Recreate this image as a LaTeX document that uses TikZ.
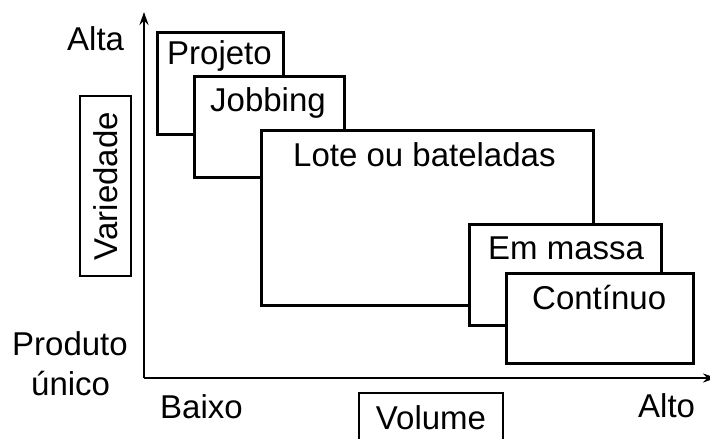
\documentclass[tikz,border=0pt]{standalone}
\usepackage{fontspec}
\setmainfont{Liberation Sans}
\usepackage{tikz}
\usetikzlibrary{positioning,arrows.meta}

\begin{document}
\begin{tikzpicture}[
  x=1pt,y=-1pt,
  font=\fontsize{33}{38}\selectfont,
  procbox/.style={draw=black,line width=2.6pt,fill=white,anchor=north west,inner sep=0pt},
  axislabel/.style={draw=black,line width=2pt,fill=white,inner sep=0pt},
  txt/.style={anchor=base west,inner sep=0pt},
  axis/.style={-{Stealth[length=13pt,width=9pt]},line width=2.8pt}
]
\clip (0,0) rectangle (710,439);
\useasboundingbox (0,0) rectangle (710,439);

\coordinate (origin) at (144,378);
\coordinate (ytip) at (144,12);
\coordinate (xtip) at (716,378);

% process boxes, back to front
\node[procbox,minimum width=126pt,minimum height=102pt] (projeto) at (156,31) {};
\node[txt] (projetotxt) at (167,64) {Projeto};
\node[procbox,minimum width=150pt,minimum height=101pt] (jobbing) at (193,75) {};
\node[txt] (jobbingtxt) at (210,111) {Jobbing};
\node[procbox,minimum width=332pt,minimum height=175pt] (lote) at (260,129) {};
\node[txt] (lotetxt) at (293,166) {Lote ou bateladas};
\node[procbox,minimum width=192pt,minimum height=101pt] (massa) at (468,223) {};
\node[txt] (massatxt) at (488,259) {Em massa};
\node[procbox,minimum width=187pt,minimum height=90pt] (continuo) at (505,272) {};
\node[txt] (continuotxt) at (532,309) {Contínuo};

\draw[axis] (origin) -- (ytip);
\draw[axis] (origin) -- (xtip);

\node[txt] (alta) at (67,50) {Alta};
\node[txt] (produto) at (12,355) {Produto};
\node[txt] (unico) at (31,395) {único};
\node[txt] (baixo) at (160,418) {Baixo};
\node[txt] (alto) at (638,417) {Alto};

\node[axislabel,rotate=90,minimum width=180pt,minimum height=51pt] (variedade) at (105.5,186) {Variedade};
\node[axislabel,anchor=north west,minimum width=144pt,text height=36pt,text depth=40pt] (volume) at (358,392) {Volume};

\end{tikzpicture}
\end{document}
